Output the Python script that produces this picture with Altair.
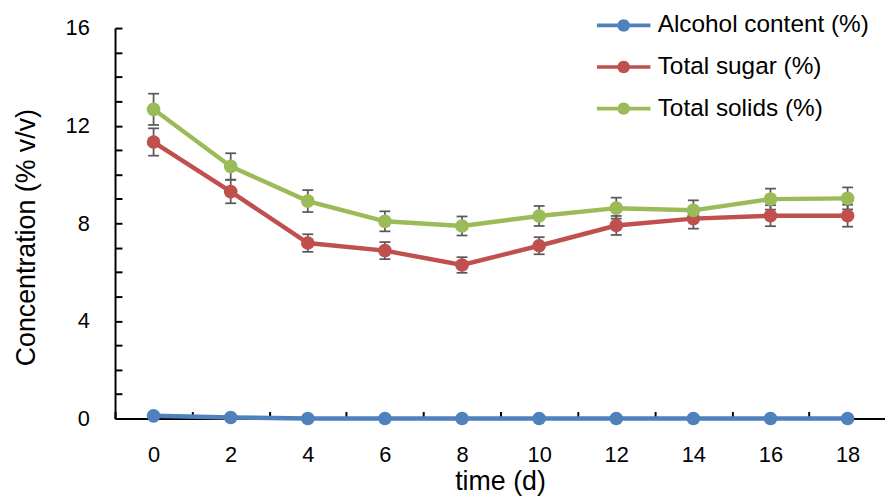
import altair as alt
import pandas as pd

days = [0, 2, 4, 6, 8, 10, 12, 14, 16, 18]
alcohol = [0.11, 0.04, 0.0, 0.0, 0.0, 0.0, 0.0, 0.0, 0.0, 0.0]
sugar = [11.33, 9.30, 7.19, 6.88, 6.29, 7.08, 7.91, 8.19, 8.31, 8.31]
solids = [12.67, 10.33, 8.91, 8.08, 7.89, 8.30, 8.62, 8.53, 8.99, 9.02]
sugar_err = [0.56, 0.48, 0.36, 0.35, 0.32, 0.35, 0.39, 0.41, 0.43, 0.45]
solids_err = [0.64, 0.54, 0.45, 0.41, 0.39, 0.41, 0.43, 0.41, 0.43, 0.45]

series_names = ["Alcohol content (%)", "Total sugar (%)", "Total solids (%)"]
series_colors = ["#4F81BD", "#C0504D", "#9BBB59"]

rows = []
for name, col, vals in zip(series_names, series_colors, [alcohol, sugar, solids]):
    for d, v in zip(days, vals):
        rows.append({"day": d, "series": name, "col": col, "value": v})
df = pd.DataFrame(rows)

err_rows = []
for name, vals, errs in [(series_names[1], sugar, sugar_err), (series_names[2], solids, solids_err)]:
    for d, v, e in zip(days, vals, errs):
        err_rows.append({"day": d, "series": name, "lo": v - e, "hi": v + e})
edf = pd.DataFrame(err_rows)

FONT = "Liberation Sans"

x_enc = alt.X(
    "day:Q",
    scale=alt.Scale(domain=[-1, 18.97], nice=False, zero=False),
    axis=alt.Axis(
        title="time (d)",
        values=[-1, 1, 3, 5, 7, 9, 11, 13, 15, 17],
        labelExpr="format(datum.value + 1, 'd')",
        labelOffset=38.9,
        labelFlush=False,
        labelOverlap=False,
        labelBaseline="middle",
        labelPadding=43,
        tickSize=alt.ExprRef(expr="-7"),
        titleY=64,
        titleBaseline="middle",
        grid=False,
    ),
)

y_axis = alt.Axis(
    title="Concentration (% v/v)",
    values=list(range(0, 17)),
    labelExpr="datum.value % 4 == 0 ? datum.label : ''",
    labelOverlap=False,
    labelFlush=False,
    labelPadding=33,
    tickSize=alt.ExprRef(expr="-7"),
    titleX=-89,
    titleY=211,
    titleAngle=270,
    titleAlign="center",
    titleBaseline="middle",
    grid=False,
)
y_scale = alt.Scale(domain=[0, 16], nice=False)

color_scale = alt.Scale(domain=series_names, range=series_colors)

legend_symbol = (
    "M-2.7,-0.18H2.7V0.18H-2.7Z "
    "M0.63,0A0.63,0.63 0 1,1 -0.63,0A0.63,0.63 0 1,1 0.63,0Z"
)

base = alt.Chart(df)
ebase = alt.Chart(edf)

err_rule = ebase.mark_rule(color="#595959", strokeWidth=1.75).encode(
    x=x_enc, y=alt.Y("lo:Q", scale=y_scale, axis=y_axis), y2="hi:Q"
)
cap_lo = ebase.mark_point(
    shape="M-1,0H1", size=121, strokeWidth=1.75, color="#595959", filled=False, opacity=1
).encode(x=x_enc, y=alt.Y("lo:Q", scale=y_scale, axis=y_axis))
cap_hi = ebase.mark_point(
    shape="M-1,0H1", size=121, strokeWidth=1.75, color="#595959", filled=False, opacity=1
).encode(x=x_enc, y=alt.Y("hi:Q", scale=y_scale, axis=y_axis))

lines = base.mark_line(strokeWidth=4.5).encode(
    x=x_enc,
    y=alt.Y("value:Q", scale=y_scale, axis=y_axis),
    stroke=alt.Stroke("col:N", scale=None),
    detail="series:N",
    order=alt.Order("day:Q"),
)

points = base.mark_point(filled=True, size=190, opacity=1).encode(
    x=x_enc,
    y=alt.Y("value:Q", scale=y_scale, axis=y_axis),
    color=alt.Color(
        "series:N",
        scale=color_scale,
        legend=alt.Legend(
            title=None,
            orient="none",
            legendX=501,
            legendY=-15,
            symbolType=legend_symbol,
            symbolSize=400,
            symbolStrokeWidth=0,
            symbolOpacity=1,
            labelOffset=22,
            labelFontSize=24.6,
            labelFont=FONT,
            labelColor="black",
            labelLimit=400,
            rowPadding=17,
            padding=0,
        ),
    ),
)

chart = (
    alt.layer(err_rule, cap_lo, cap_hi, lines, points)
    .properties(
        width=777,
        height=394,
        background="white",
        autosize=alt.AutoSizeParams(type="none"),
        padding={"left": 108, "top": 18, "right": 0, "bottom": 79},
    )
    .configure_view(stroke=None)
    .configure_axis(
        domainColor="black",
        domainWidth=2,
        tickColor="black",
        tickWidth=2,
        labelFont=FONT,
        labelFontSize=22,
        labelColor="black",
        titleFont=FONT,
        titleFontSize=27,
        titleFontWeight="normal",
        titleColor="black",
    )
)

chart.save("out.html", embed_options={"renderer": "svg", "actions": False})
